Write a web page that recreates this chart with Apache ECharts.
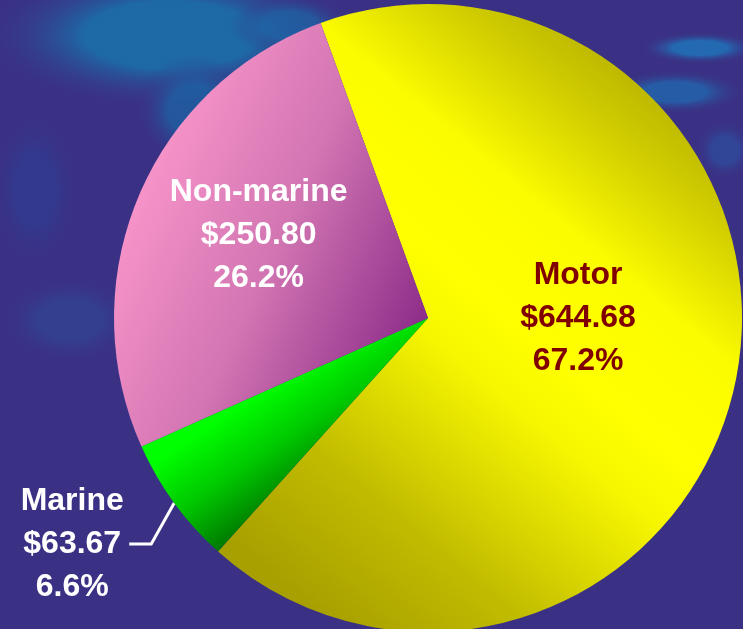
<!DOCTYPE html>
<html lang="en">

<head>
    <meta charset="UTF-8">
    <title>pie</title>
    <style>
        html, body { margin: 0; padding: 0; }
        #main { width: 743px; height: 629px; }
    </style>
</head>

<body>
    <div id="main"></div>
</body>
<script src="https://cdn.jsdelivr.net/npm/echarts@6/dist/echarts.min.js"></script>
<script>
    var names = ['Motor', 'Marine', 'Non-marine']
    var values = [644.68, 63.67, 250.80]

    var main = document.getElementById("main")
    var myChart = echarts.init(main)

    // soft blobs for the dark photo background
    function blob(cx, cy, rx, ry, color) {
        return {
            type: 'circle',
            silent: true,
            x: cx,
            y: cy,
            scaleX: rx / ry,
            shape: { cx: 0, cy: 0, r: ry },
            style: {
                fill: new echarts.graphic.RadialGradient(0.5, 0.5, 0.5, [
                    { offset: 0, color: color },
                    { offset: 0.45, color: color },
                    { offset: 1, color: 'rgba(58,49,132,0)' }
                ])
            }
        }
    }

    var white = '#ffffff'
    var fills = [
        new echarts.graphic.LinearGradient(280, 580, 680, 95, [
            { offset: 0, color: '#a8a000' },
            { offset: 0.2, color: '#c2bc00' },
            { offset: 0.45, color: '#f6f600' },
            { offset: 0.55, color: '#ffff00' },
            { offset: 0.72, color: '#fcfc00' },
            { offset: 0.88, color: '#d2ce00' },
            { offset: 1, color: '#b8b200' }
        ], true),
        new echarts.graphic.LinearGradient(165, 455, 225, 545, [
            { offset: 0, color: '#00ff00' },
            { offset: 0.5, color: '#00c800' },
            { offset: 1, color: '#007a00' }
        ], true),
        new echarts.graphic.LinearGradient(140, 200, 430, 330, [
            { offset: 0, color: '#f592c8' },
            { offset: 0.45, color: '#d275b2' },
            { offset: 1, color: '#8a2a88' }
        ], true)
    ]
    var labelColors = ['#800000', white, white]

    var data = []
    for (var i = 0; i < names.length; i++) {
        var item = {
            name: names[i],
            value: values[i],
            itemStyle: { color: fills[i] },
            label: { color: labelColors[i] }
        }
        if (i == 1) {
            item.label.position = 'outside'
            item.labelLine = { show: true, length: 20, length2: 20, lineStyle: { color: white, width: 3 } }
        }
        data.push(item)
    }

    var option = {
        backgroundColor: '#3a3184',
        graphic: [
            blob(170, 35, 190, 75, 'rgba(28,108,168,0.95)'),
            blob(195, 110, 60, 55, 'rgba(28,100,165,0.75)'),
            blob(290, 25, 60, 30, 'rgba(30,100,165,0.7)'),
            blob(70, 320, 70, 45, 'rgba(44,80,158,0.45)'),
            blob(700, 48, 60, 16, 'rgba(30,120,190,0.8)'),
            blob(675, 92, 70, 22, 'rgba(30,110,180,0.7)'),
            blob(725, 150, 30, 30, 'rgba(40,90,170,0.5)'),
            blob(35, 190, 45, 80, 'rgba(44,64,150,0.55)')
        ],
        series: [{
            type: 'pie',
            center: [428, 318],
            radius: 314,
            startAngle: 110,
            clockwise: true,
            percentPrecision: 1,
            silent: true,
            animation: false,
            itemStyle: { borderWidth: 0 },
            label: {
                position: 'inside',
                fontFamily: 'Liberation Sans',
                fontWeight: 'bold',
                fontSize: 32,
                lineHeight: 43,
                align: 'center',
                formatter: function (p) {
                    return p.name + '\n$' + p.value.toFixed(2) + '\n' + p.percent + '%'
                }
            },
            labelLine: { show: false },
            labelLayout: function (p) {
                if (p.dataIndex == 0) return { dx: -7, dy: -30 }
                if (p.dataIndex == 2) return { dx: -22, dy: -20 }
                var pts = p.labelLinePoints
                var p0 = pts[0]
                var p1 = [p0[0] - 23, p0[1] + 41]
                var p2 = [p1[0] - 22, p1[1]]
                return {
                    x: p2[0] - 57,
                    y: p2[1],
                    align: 'center',
                    verticalAlign: 'middle',
                    labelLinePoints: [p0, p1, p2]
                }
            },
            data: data
        }]
    }

    myChart.setOption(option)
</script>

</html>
